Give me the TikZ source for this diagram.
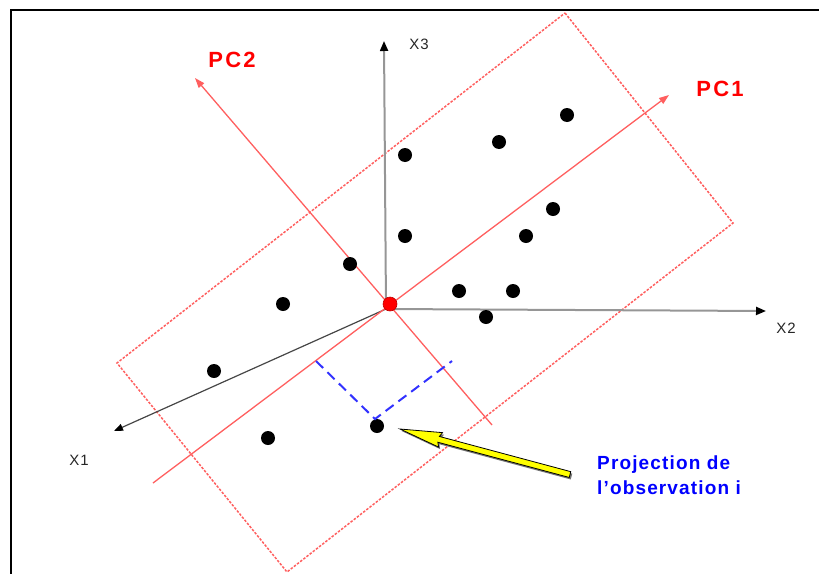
\documentclass[tikz,border=0pt]{standalone}
\usepackage{fontspec}
\setmainfont{Liberation Sans}
\newfontfamily\pcfont[LetterSpace=10]{Liberation Sans}
\newfontfamily\projfont[LetterSpace=6]{Liberation Sans}
\newfontfamily\axfont[LetterSpace=6]{Liberation Sans}
\usetikzlibrary{arrows.meta}
\definecolor{pcred}{RGB}{255,95,95}
\definecolor{lblred}{RGB}{255,0,0}
\definecolor{lblblue}{RGB}{0,0,255}
\definecolor{dashblue}{RGB}{50,50,255}
\definecolor{axgray}{RGB}{150,150,150}
\definecolor{axdark}{RGB}{70,70,70}
\definecolor{arrowyellow}{RGB}{255,255,0}
\begin{document}
\begin{tikzpicture}[x=1pt,y=-1pt,
  obs/.style={circle,fill=black,minimum size=14pt,inner sep=0pt},
  axlbl/.style={font=\axfont\fontsize{15}{18}\selectfont,text=black!85,inner sep=0pt},
  pclbl/.style={font=\pcfont\fontsize{22}{26}\selectfont\bfseries,text=lblred,inner sep=0pt},
  pcaxis/.style={pcred,line width=1.3pt,-{Triangle[length=10pt,width=7pt]}},
  boxline/.style={pcred,line width=1.5pt,dash pattern=on 2.5pt off 1.5pt},
  projline/.style={dashblue,line width=2pt,dash pattern=on 10pt off 6pt}]
\useasboundingbox (0,0) rectangle (819,573);
\begin{scope}
\clip (0,0) rectangle (819,573);
% frame
\draw[line width=2pt] (11,600) -- (11,10) -- (840,10);
% dotted box
\draw[boxline] (565,13) -- (733,223) -- (287,572) -- (117,363) -- cycle;
% axes
\coordinate (O) at (386,309);
\coordinate (X3end) at (384,41);
\coordinate (X2end) at (766,311);
\coordinate (X1end) at (114,431);
\draw[axgray,line width=2pt,-{Triangle[color=black,length=10pt,width=8pt]}] (O) -- (X3end);
\draw[axgray,line width=2pt,-{Triangle[color=black,length=10pt,width=8pt]}] (O) -- (X2end);
\draw[axdark,line width=1.2pt,-{Triangle[color=black,length=9pt,width=7pt]}] (O) -- (X1end);
% principal components
\coordinate (PC1a) at (153,483);
\coordinate (PC1b) at (669,95);
\coordinate (PC2a) at (492,425);
\coordinate (PC2b) at (195,78);
\draw[pcaxis] (PC1a) -- (PC1b);
\draw[pcaxis] (PC2a) -- (PC2b);
% observations
\foreach \n/\px/\py in {1/405/155,2/499/142,3/567/115,4/553/209,5/405/236,6/526/236,
  7/350/264,8/283/304,9/459/291,10/513/291,11/486/317,12/214/371,13/268/438,14/377/426}
  \node[obs] (d\n) at (\px,\py) {};
% origin
\node[circle,fill=red,draw=red!75!black,line width=0.6pt,minimum size=14pt,inner sep=0pt] (origin) at (390,304) {};
% projection lines
\coordinate (pL) at (316,361);
\coordinate (pV) at (375,419);
\coordinate (pR) at (452,361);
\draw[projline] (pL) -- (pV) -- (pR);
% yellow arrow (shadow + body)
\begin{scope}[shift={(401.5,431)},rotate=-15]
\fill[black!55] (0,0) -- (42,-7.5) -- (40,-3) -- (176,-3) -- (176,3) -- (40,3) -- (42,7.5) -- cycle;
\end{scope}
\begin{scope}[shift={(400,429)},rotate=-15]
\filldraw[fill=arrowyellow,draw=black,line width=0.8pt] (0,0) -- (42,-7.5) -- (40,-3) -- (176,-3) -- (176,3) -- (40,3) -- (42,7.5) -- cycle;
\end{scope}
% labels
\node[pclbl] (pc2lbl) at (232,60) {PC2};
\node[pclbl] (pc1lbl) at (720,89) {PC1};
\node[axlbl] (x3lbl) at (419,44) {X3};
\node[axlbl] (x2lbl) at (786,328) {X2};
\node[axlbl] (x1lbl) at (79,460) {X1};
\node[anchor=north west,align=left,inner sep=0pt,text=lblblue,
  font=\projfont\fontsize{19}{25}\selectfont\bfseries] (projlbl) at (597,456) {Projection de\\l’observation i};
\end{scope}
\end{tikzpicture}
\end{document}
